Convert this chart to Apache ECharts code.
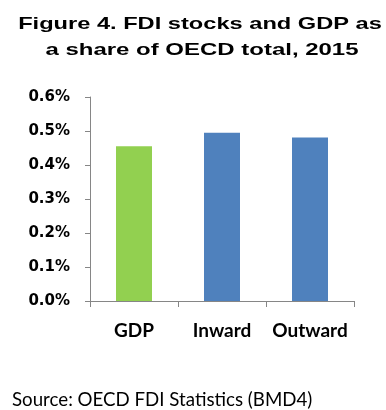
<!DOCTYPE html>
<html>
<head>
<meta charset="utf-8">
<script src="https://cdn.jsdelivr.net/npm/echarts@6/dist/echarts.min.js"></script>
<style>
  html, body { margin: 0; padding: 0; background: #fff; }
  #chart { width: 386px; height: 410px; }
</style>
</head>
<body>
<div id="chart"></div>
<script>
// Share of OECD total, 2015 (percent)
const categories = ['GDP', 'Inward', 'Outward'];
const shareValues = [0.455, 0.495, 0.481];
const barColors = ['#92D050', '#4F81BD', '#4F81BD'];
const yTicks = [0, 0.1, 0.2, 0.3, 0.4, 0.5, 0.6];

const titleLines = ['Figure 4. FDI stocks and GDP as', 'a share of OECD total, 2015'];
const sourceText = 'Source: OECD FDI Statistics (BMD4)';

const chart = echarts.init(document.getElementById('chart'), null, { renderer: 'canvas' });

const axisGray = '#868686';

chart.setOption({
  animation: false,
  backgroundColor: '#ffffff',
  grid: { left: 90, right: 32, top: 97, bottom: 109, containLabel: false },
  xAxis: {
    type: 'category',
    data: categories,
    axisLine: { show: true, lineStyle: { color: axisGray, width: 1 } },
    axisTick: { show: true, alignWithLabel: false, length: 6, lineStyle: { color: axisGray } },
    axisLabel: {
      interval: 0,
      margin: 20,
      color: '#000',
      fontFamily: 'Lato',
      fontWeight: 'bold',
      fontSize: 19
    },
    splitLine: { show: false }
  },
  yAxis: {
    type: 'value',
    min: yTicks[0],
    max: yTicks[yTicks.length - 1],
    interval: 0.1,
    axisLine: { show: true, lineStyle: { color: axisGray, width: 1 } },
    axisTick: { show: true, length: 5, lineStyle: { color: axisGray } },
    axisLabel: {
      margin: 20,
      color: '#000',
      fontFamily: 'DejaVu Sans',
      fontWeight: 'bold',
      fontSize: 15,
      formatter: v => v.toFixed(1) + '%'
    },
    splitLine: { show: false }
  },
  series: [{
    type: 'bar',
    barWidth: 36,
    data: shareValues.map((v, i) => ({ value: v, itemStyle: { color: barColors[i] } }))
  }],
  graphic: [
    {
      type: 'text',
      x: 200,
      y: 24,
      scaleX: 1.39,
      style: {
        text: titleLines[0],
        fill: '#000',
        font: 'bold 17px "Liberation Sans", Arial, sans-serif',
        textAlign: 'center',
        textVerticalAlign: 'middle'
      }
    },
    {
      type: 'text',
      x: 202,
      y: 50,
      scaleX: 1.41,
      style: {
        text: titleLines[1],
        fill: '#000',
        font: 'bold 17px "Liberation Sans", Arial, sans-serif',
        textAlign: 'center',
        textVerticalAlign: 'middle'
      }
    },
    {
      type: 'text',
      x: 12,
      y: 400,
      style: {
        text: sourceText,
        fill: '#000',
        font: '18.7px Lato, sans-serif',
        textAlign: 'left',
        textVerticalAlign: 'middle'
      }
    }
  ]
});
</script>
</body>
</html>
